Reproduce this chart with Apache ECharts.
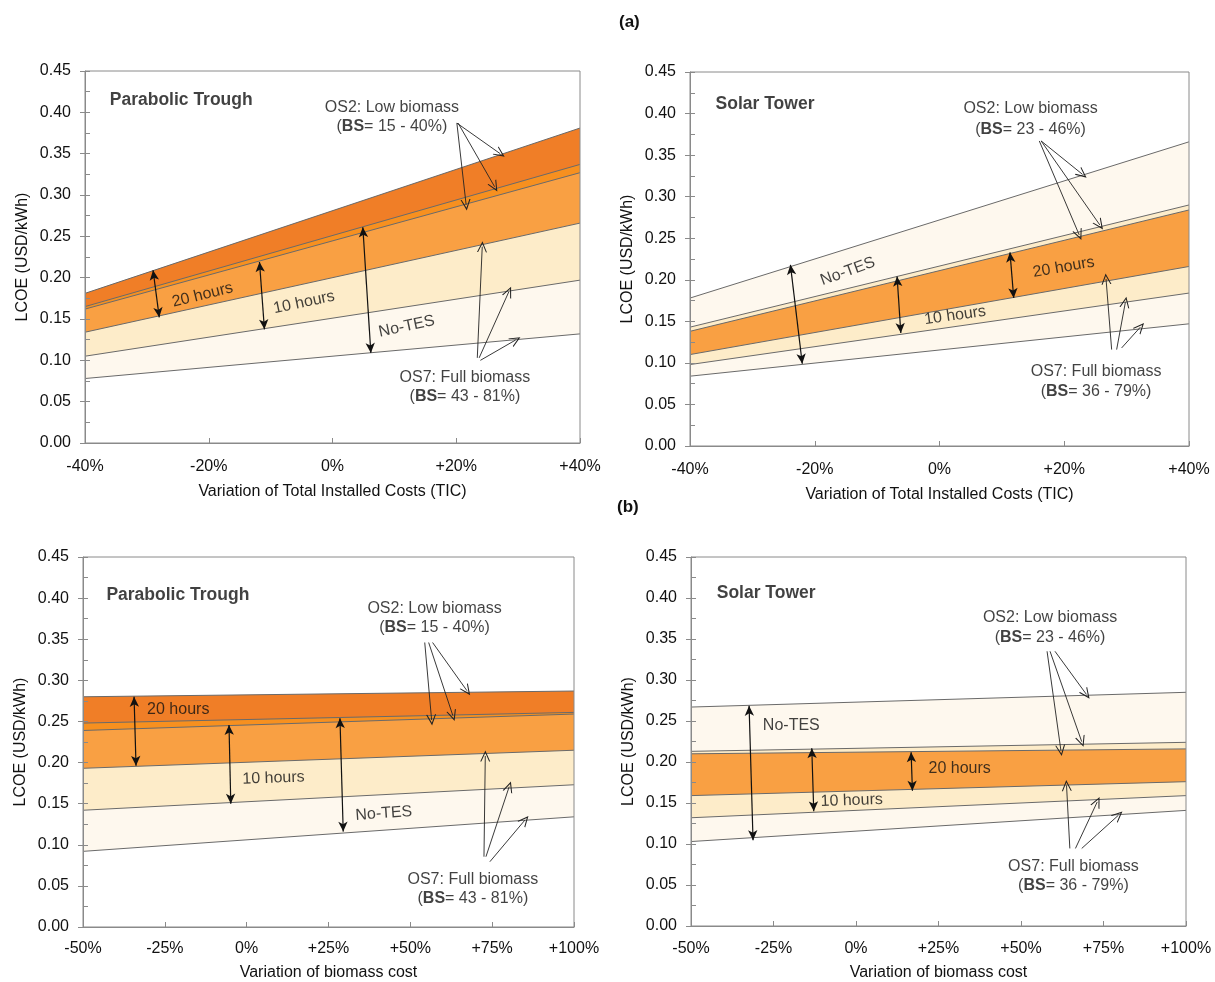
<!DOCTYPE html>
<html><head><meta charset="utf-8">
<script src="https://cdn.jsdelivr.net/npm/echarts@6/dist/echarts.min.js"></script>
<style>html,body{margin:0;padding:0;background:#fff}#c{width:1215px;height:982px}</style>
</head><body><div id="c"></div>
<script>
// ---------- DATA ----------
// x values (endpoints of the sensitivity range)
const ticX = [-40, 40];
const bioX = [-50, 100];
const ticTickLabels = ['-40%', '-20%', '0%', '+20%', '+40%'];
const bioTickLabels = ['-50%', '-25%', '0%', '+25%', '+50%', '+75%', '+100%'];
const yTickLabels = ['0.00','0.05','0.10','0.15','0.20','0.25','0.30','0.35','0.40','0.45'];

// (a) Parabolic Trough, variation of TIC  (LCOE USD/kWh)
const aPtOs2H20 = [0.181, 0.381];
const aPtOs2H10 = [0.165, 0.337];
const aPtOs2NoTes = [0.162, 0.327];
const aPtOs7H20 = [0.134, 0.266];
const aPtOs7H10 = [0.105, 0.197];
const aPtOs7NoTes = [0.078, 0.132];
// (a) Solar Tower, variation of TIC
const aStOs2NoTes = [0.178, 0.366];
const aStOs2H10 = [0.143, 0.290];
const aStOs2H20 = [0.138, 0.284];
const aStOs7H20 = [0.110, 0.216];
const aStOs7H10 = [0.098, 0.184];
const aStOs7NoTes = [0.084, 0.147];
// (b) Parabolic Trough, variation of biomass cost
const bPtOs2H20 = [0.280, 0.287];
const bPtOs2NoTes = [0.248, 0.261];
const bPtOs2H10 = [0.239, 0.259];
const bPtOs7H20 = [0.193, 0.215];
const bPtOs7H10 = [0.142, 0.173];
const bPtOs7NoTes = [0.092, 0.134];
// (b) Solar Tower, variation of biomass cost
const bStOs2NoTes = [0.267, 0.285];
const bStOs2H10 = [0.213, 0.224];
const bStOs2H20 = [0.210, 0.216];
const bStOs7H20 = [0.159, 0.176];
const bStOs7H10 = [0.132, 0.159];
const bStOs7NoTes = [0.103, 0.141];

// ---------- STYLE ----------
const FONT = 'Liberation Sans';
const C_DARK = '#F07E27', C_BRIGHT = '#F7901F', C_MED = '#F9A043', C_PALE = '#FDECC9', C_VPALE = '#FEF8EE', C_WHITE = '#FFFFFF';
const AXIS_C = '#8a8a8a';
const LINE_C = '#6a6a6a';
const TXT_C = '#111';

const panels = [
  { grid: {left: 85, top: 71, width: 495, height: 372}, x: ticX, ticks: ticTickLabels, interval: 20,
    xName: 'Variation of Total Installed Costs (TIC)', nameGap: 41, labelMargin: 16,
    lines: [[aPtOs2H20, C_DARK], [aPtOs2H10, C_BRIGHT], [aPtOs2NoTes, C_MED], [aPtOs7H20, C_PALE], [aPtOs7H10, C_VPALE], [aPtOs7NoTes, C_WHITE]],
    texts: [
      {t: 'Parabolic Trough', p: [-36, 0.415], bold: true, align: 'left'},
      {t: 'OS2: Low biomass', p: [9.6, 0.406]},
      {t: '({b|BS}= 15 - 40%)', p: [9.6, 0.383]},
      {t: 'OS7: Full biomass', p: [21.4, 0.079]},
      {t: '({b|BS}= 43 - 81%)', p: [21.4, 0.056]},
      {t: '20 hours', p: [-21, 0.179], r: 14},
      {t: '10 hours', p: [-4.6, 0.170], r: 12},
      {t: 'No-TES', p: [12, 0.141], r: 12}
    ],
    dbl: [[-29, 0.209, -28, 0.152], [-11.8, 0.219, -11, 0.1375], [4.9, 0.261, 6.2, 0.109]],
    ptr: [[20.1, 0.387, 27.1, 0.350], [20.3, 0.387, 26.2, 0.310], [20.1, 0.387, 21.6, 0.288],
          [23.4, 0.103, 24.2, 0.2375], [23.7, 0.103, 28.5, 0.183], [23.9, 0.100, 29.6, 0.1246]]
  },
  { grid: {left: 690, top: 72, width: 499, height: 374}, x: ticX, ticks: ticTickLabels, interval: 20,
    xName: 'Variation of Total Installed Costs (TIC)', nameGap: 41, labelMargin: 16,
    lines: [[aStOs2NoTes, C_VPALE], [aStOs2H10, C_PALE], [aStOs2H20, C_MED], [aStOs7H20, C_PALE], [aStOs7H10, C_VPALE], [aStOs7NoTes, C_WHITE]],
    texts: [
      {t: 'Solar Tower', p: [-35.9, 0.411], bold: true, align: 'left'},
      {t: 'OS2: Low biomass', p: [14.6, 0.406]},
      {t: '({b|BS}= 23 - 46%)', p: [14.6, 0.381]},
      {t: 'OS7: Full biomass', p: [25.1, 0.090]},
      {t: '({b|BS}= 36 - 79%)', p: [25.1, 0.066]},
      {t: 'No-TES', p: [-14.7, 0.210], r: 20},
      {t: '10 hours', p: [2.5, 0.157], r: 8},
      {t: '20 hours', p: [19.9, 0.215], r: 10}
    ],
    dbl: [[-23.9, 0.218, -22, 0.099], [-6.8, 0.204, -6.2, 0.136], [11.3, 0.233, 11.9, 0.178]],
    ptr: [[16.3, 0.367, 22.9, 0.327], [16.3, 0.367, 25.7, 0.266], [16.0, 0.367, 22.4, 0.254],
          [27.6, 0.116, 26.7, 0.201], [28.4, 0.116, 29.8, 0.173], [29.2, 0.118, 32.2, 0.143]]
  },
  { grid: {left: 83, top: 557, width: 491, height: 370}, x: bioX, ticks: bioTickLabels, interval: 25,
    xName: 'Variation of biomass cost', nameGap: 38, labelMargin: 14,
    lines: [[bPtOs2H20, C_DARK], [bPtOs2NoTes, C_BRIGHT], [bPtOs2H10, C_MED], [bPtOs7H20, C_PALE], [bPtOs7H10, C_VPALE], [bPtOs7NoTes, C_WHITE]],
    texts: [
      {t: 'Parabolic Trough', p: [-42.85, 0.403], bold: true, align: 'left'},
      {t: 'OS2: Low biomass', p: [57.4, 0.3876]},
      {t: '({b|BS}= 15 - 40%)', p: [57.4, 0.364]},
      {t: 'OS7: Full biomass', p: [69.1, 0.058]},
      {t: '({b|BS}= 43 - 81%)', p: [69.1, 0.035]},
      {t: '20 hours', p: [-20.9, 0.264]},
      {t: '10 hours', p: [8.2, 0.181], r: 2},
      {t: 'No-TES', p: [41.9, 0.138], r: 4}
    ],
    dbl: [[-34.4, 0.280, -33.8, 0.196], [-5.4, 0.2457, -4.85, 0.150], [28.5, 0.254, 29.5, 0.116]],
    ptr: [[54.4, 0.346, 56.5, 0.2518], [55.6, 0.346, 63, 0.257], [56.8, 0.346, 67.3, 0.2874],
          [72.5, 0.0855, 72.9, 0.208], [73.1, 0.0855, 80.2, 0.1707], [74.3, 0.0794, 85, 0.130]]
  },
  { grid: {left: 691, top: 557, width: 495, height: 371}, x: bioX, ticks: bioTickLabels, interval: 25,
    xName: 'Variation of biomass cost', nameGap: 39, labelMargin: 15,
    lines: [[bStOs2NoTes, C_VPALE], [bStOs2H10, C_PALE], [bStOs2H20, C_MED], [bStOs7H20, C_PALE], [bStOs7H10, C_VPALE], [bStOs7NoTes, C_WHITE]],
    texts: [
      {t: 'Solar Tower', p: [-42.2, 0.406], bold: true, align: 'left'},
      {t: 'OS2: Low biomass', p: [58.8, 0.3757]},
      {t: '({b|BS}= 23 - 46%)', p: [58.8, 0.352]},
      {t: 'OS7: Full biomass', p: [65.9, 0.0724]},
      {t: '({b|BS}= 36 - 79%)', p: [65.9, 0.0489]},
      {t: 'No-TES', p: [-19.6, 0.244]},
      {t: '10 hours', p: [-1.3, 0.153], r: 2},
      {t: '20 hours', p: [31.4, 0.1917]}
    ],
    dbl: [[-32.4, 0.2685, -31.2, 0.1047], [-13.4, 0.2168, -12.8, 0.1399], [16.7, 0.212, 17.1, 0.165]],
    ptr: [[57.9, 0.335, 62.1, 0.2139], [58.8, 0.335, 68.4, 0.2248], [60.3, 0.335, 69.8, 0.2826],
          [64.8, 0.0946, 63.8, 0.1714], [66.5, 0.0946, 73.1, 0.1513], [68.4, 0.0946, 79.5, 0.135]]
  }
];

const OPEN_ARROW = 'path://M5,0 L10,11 L8.9,11 L5,2.6 L1.1,11 L0,11 Z';

const option = {
  animation: false,
  backgroundColor: '#fff',
  textStyle: {fontFamily: FONT},
  grid: [], xAxis: [], yAxis: [], series: [],
  graphic: [
    {type: 'text', left: 619, top: 14, style: {text: '(a)', font: 'bold 17px "' + FONT + '"', fill: TXT_C}},
    {type: 'text', left: 617, top: 499, style: {text: '(b)', font: 'bold 17px "' + FONT + '"', fill: TXT_C}}
  ]
};

panels.forEach((pn, gi) => {
  option.grid.push(Object.assign({show: true, borderColor: AXIS_C, borderWidth: 1, backgroundColor: 'transparent', z: 10}, pn.grid));
  const xmin = pn.x[0], xmax = pn.x[1];
  option.xAxis.push({
    type: 'value', gridIndex: gi, min: xmin, max: xmax, interval: pn.interval, z: 10,
    axisLine: {show: true, onZero: false, lineStyle: {color: AXIS_C, width: 1}},
    axisTick: {show: true, inside: true, length: 5, lineStyle: {color: AXIS_C}},
    axisLabel: {fontSize: 16, color: TXT_C, fontFamily: FONT, margin: pn.labelMargin,
      formatter: v => pn.ticks[Math.round((v - xmin) / pn.interval)]},
    splitLine: {show: false},
    name: pn.xName, nameLocation: 'middle', nameGap: pn.nameGap,
    nameTextStyle: {fontSize: 16, color: TXT_C, fontFamily: FONT}
  });
  option.yAxis.push({
    type: 'value', gridIndex: gi, min: 0, max: 0.45, interval: 0.05, z: 10,
    axisLine: {show: true, onZero: false, lineStyle: {color: AXIS_C, width: 1}},
    axisTick: {show: true, inside: false, length: 5, lineStyle: {color: AXIS_C}},
    axisLabel: {fontSize: 16, color: TXT_C, fontFamily: FONT, margin: 14,
      formatter: v => yTickLabels[Math.round(v / 0.05)]},
    splitLine: {show: false},
    name: 'LCOE (USD/kWh)', nameLocation: 'middle', nameGap: 54,
    nameTextStyle: {fontSize: 16, color: TXT_C, fontFamily: FONT}
  });
  const yMinorIdx = option.yAxis.length;
  option.yAxis.push({
    type: 'value', gridIndex: gi, min: 0, max: 0.45, interval: 0.025, position: 'left', offset: 0, z: 10,
    axisLine: {show: false, onZero: false}, axisLabel: {show: false}, splitLine: {show: false},
    axisTick: {show: true, inside: true, length: 5, lineStyle: {color: AXIS_C}}
  });
  const yIdx = yMinorIdx - 1;
  pn.lines.forEach(([vals, fill]) => {
    option.series.push({
      type: 'line', xAxisIndex: gi, yAxisIndex: yIdx, z: 2,
      data: pn.x.map((xv, i) => [xv, vals[i]]),
      symbol: 'none', silent: true,
      lineStyle: {color: LINE_C, width: 1},
      areaStyle: {color: fill, opacity: 1, origin: 'start'}
    });
  });
  const mlData = [];
  pn.dbl.forEach(a => mlData.push([
    {coord: [a[0], a[1]], symbol: 'arrow', symbolSize: [7, 10], lineStyle: {color: '#111', width: 1.2}},
    {coord: [a[2], a[3]], symbol: 'arrow', symbolSize: [7, 10]}
  ]));
  pn.ptr.forEach(a => mlData.push([
    {coord: [a[0], a[1]], symbol: 'none', lineStyle: {color: '#222', width: 0.9}},
    {coord: [a[2], a[3]], symbol: OPEN_ARROW, symbolSize: [10, 11]}
  ]));
  option.series.push({
    type: 'scatter', xAxisIndex: gi, yAxisIndex: yIdx, z: 6, silent: true,
    symbolSize: 0, itemStyle: {color: 'transparent'},
    data: pn.texts.map(tx => ({
      value: tx.p,
      label: {
        show: true, position: 'inside', formatter: tx.t, rotate: tx.r || 0,
        align: tx.align || 'center', verticalAlign: 'middle',
        fontSize: tx.bold ? 17.5 : 16, fontFamily: FONT, color: TXT_C, fontWeight: tx.bold ? 'bold' : 'normal',
        textBorderWidth: 0,
        rich: {b: {fontWeight: 'bold', fontSize: 16, fontFamily: FONT, color: TXT_C, textBorderWidth: 0}}
      }
    })),
    markLine: {
      silent: true, animation: false, label: {show: false},
      emphasis: {disabled: true},
      lineStyle: {color: '#111', width: 1, type: 'solid'},
      data: mlData
    }
  });
});

const chart = echarts.init(document.getElementById('c'), null, {renderer: 'canvas'});
chart.setOption(option);
</script>
</body></html>
